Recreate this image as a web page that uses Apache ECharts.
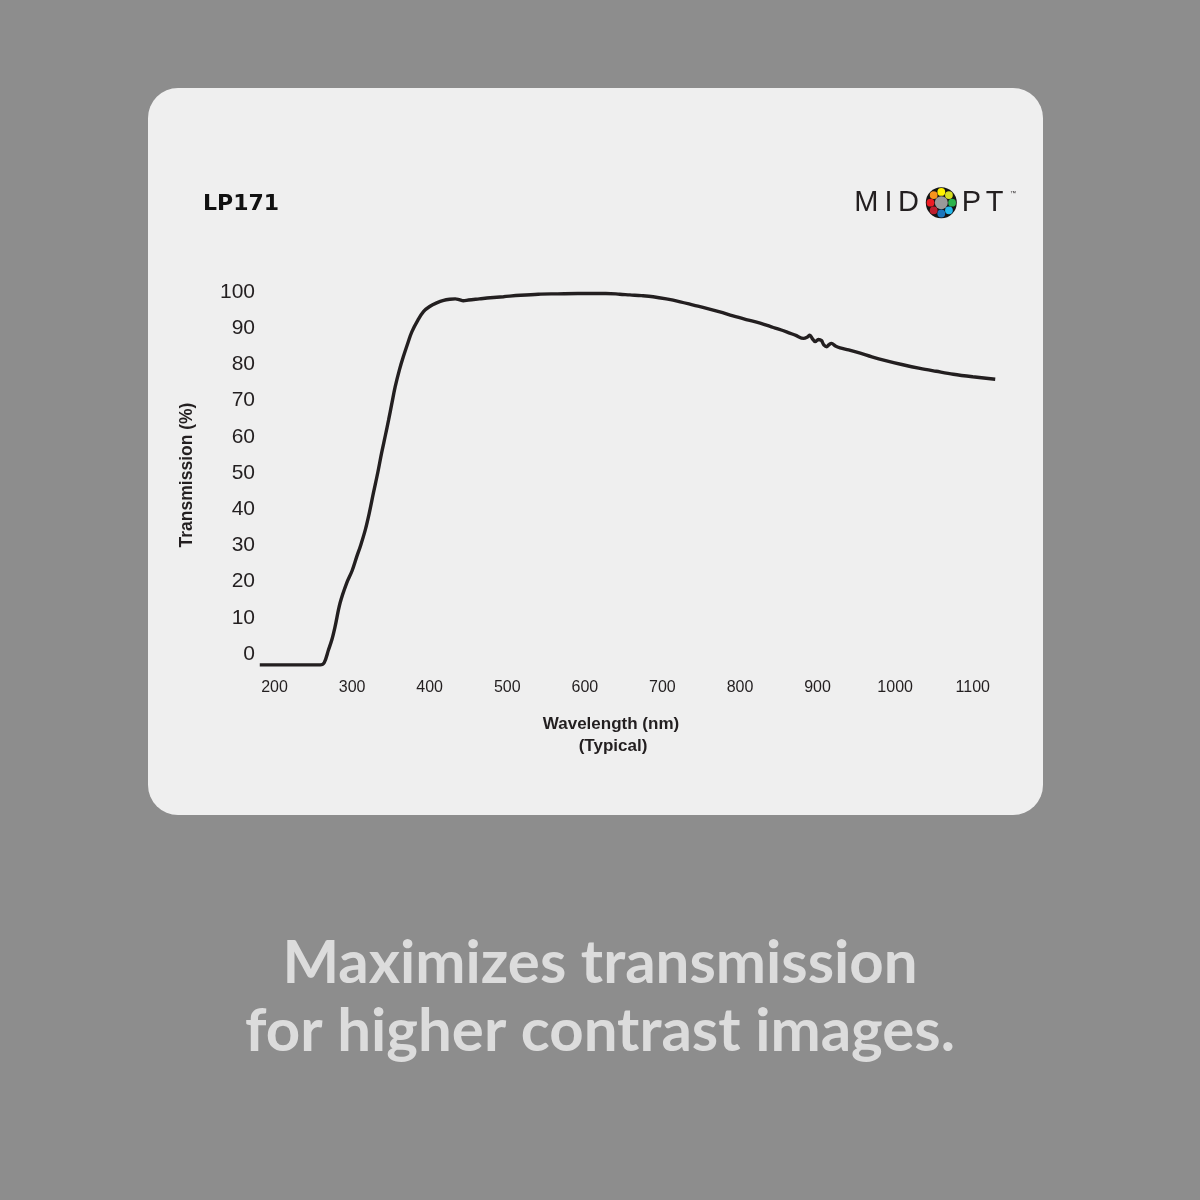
<!DOCTYPE html>
<html>
<head>
<meta charset="utf-8">
<script src="https://cdn.jsdelivr.net/npm/echarts@6/dist/echarts.min.js"></script>
<style>
html,body{margin:0;padding:0;background:#8d8d8d;}
#chart{width:1200px;height:1200px;}
</style>
</head>
<body>
<div id="chart"></div>
<script>
const wavelength = [181, 259, 264, 269.5, 274, 278, 284.5, 293, 300, 306, 311, 317, 322, 327.5, 333, 338, 343, 347, 351.5, 355.5, 361, 366, 372, 377, 385, 392, 400, 409, 418, 426, 433, 438, 443.5, 450, 464, 478, 495, 517, 540, 565, 591, 610, 627, 645, 658, 673, 688, 705, 723, 740, 757, 774, 791, 808, 826, 843, 860, 872, 882, 887, 890, 893, 897, 901, 905, 908, 912, 915, 918, 923, 929, 940, 955, 970, 989, 1010, 1032, 1053, 1075, 1100, 1129];
const transmission = [-3.0, -3.0, -2.4, 1.1, 4.0, 7.5, 14.1, 19.6, 23.0, 26.9, 30.0, 34.3, 38.8, 44.5, 50.0, 55.5, 60.5, 64.6, 69.5, 73.8, 78.5, 82.1, 86.0, 89.0, 92.3, 94.6, 96.0, 97.0, 97.7, 98.0, 98.1, 97.9, 97.6, 97.8, 98.1, 98.4, 98.7, 99.1, 99.4, 99.5, 99.6, 99.6, 99.6, 99.4, 99.2, 99.0, 98.7, 98.1, 97.3, 96.4, 95.5, 94.5, 93.4, 92.4, 91.4, 90.2, 89.0, 88.0, 87.2, 87.6, 88.1, 87.2, 86.3, 86.9, 86.6, 85.4, 84.9, 85.5, 85.8, 85.1, 84.6, 84.0, 83.1, 82.1, 81.0, 79.9, 78.9, 78.1, 77.3, 76.6, 75.9];
const xTickLabels = [200, 300, 400, 500, 600, 700, 800, 900, 1000, 1100];
const yTickLabels = [0, 10, 20, 30, 40, 50, 60, 70, 80, 90, 100];
const title = 'LP171';
const xName = ['Wavelength (nm)', '(Typical)'];
const yName = 'Transmission (%)';
const tagline = ['Maximizes transmission', 'for higher contrast images.'];

const chart = echarts.init(document.getElementById('chart'), null, {renderer: 'canvas'});

const dotColors = ['#f7941d', '#fff200', '#d7df23', '#2bb34b', '#27b8eb', '#1c75bc', '#be1e2d', '#ed1c24'];
const dotAngles = [-135, -90, -45, 0, 45, 90, 135, 180];
const cx = 941.3, cy = 202.7;
const logo = [
  {type: 'circle', shape: {cx: cx, cy: cy, r: 15.5}, style: {fill: '#141414'}, z: 10},
  {type: 'circle', shape: {cx: cx, cy: cy, r: 6.5}, style: {fill: '#9a9a9a'}, z: 11}
];
dotAngles.forEach((a, i) => {
  const rad = a * Math.PI / 180;
  logo.push({type: 'circle', shape: {cx: cx + 10.8 * Math.cos(rad), cy: cy + 10.8 * Math.sin(rad), r: 3.9}, style: {fill: dotColors[i]}, z: 11});
});
const letters = [['M', 866.3], ['I', 888.5], ['D', 908.5], ['P', 971.5], ['T', 994.5]];
letters.forEach(l => {
  logo.push({type: 'text', x: l[1], y: 203, z: 10, style: {text: l[0], fill: '#231f20', font: 'normal 29px "Liberation Sans", Arial, sans-serif', align: 'center', verticalAlign: 'middle'}});
});
logo.push({type: 'text', x: 1010, y: 193, z: 10, style: {text: '™', fill: '#231f20', font: 'normal 6px "Liberation Sans", sans-serif', align: 'left', verticalAlign: 'middle'}});

const option = {
  backgroundColor: '#8d8d8d',
  animation: false,
  grid: {left: 259, width: 737, top: 288.4, height: 380.1, containLabel: false},
  xAxis: {
    type: 'value', min: 180, max: 1130,
    axisLine: {show: false}, axisTick: {show: false}, splitLine: {show: false},
    axisLabel: {
      customValues: xTickLabels, margin: 11,
      formatter: v => String(v),
      fontFamily: '"Liberation Sans Narrow", "Arial Narrow", "Liberation Sans", sans-serif',
      fontSize: 16, color: '#231f20'
    }
  },
  yAxis: {
    type: 'value', min: -4, max: 101,
    axisLine: {show: false}, axisTick: {show: false}, splitLine: {show: false},
    axisLabel: {
      customValues: yTickLabels, margin: 4,
      formatter: v => String(v),
      fontFamily: '"Liberation Sans", Arial, sans-serif', fontSize: 21, color: '#231f20'
    }
  },
  series: [{
    type: 'line',
    data: wavelength.map((w, i) => [w, transmission[i]]),
    showSymbol: false, smooth: 0.35, clip: false,
    lineStyle: {color: '#231f20', width: 3.4}
  }],
  graphic: [
    {type: 'rect', shape: {x: 148, y: 88, width: 895, height: 727, r: 30}, style: {fill: '#efefef'}, z: -10},
    {type: 'text', x: 203, y: 204, style: {text: title, fill: '#111111', font: 'bold 22px "DejaVu Sans", sans-serif', align: 'left', verticalAlign: 'middle'}},
    {type: 'text', x: 611, y: 724, style: {text: xName[0], fill: '#231f20', font: 'bold 17px "Liberation Sans Narrow", "Arial Narrow", "Liberation Sans", sans-serif', align: 'center', verticalAlign: 'middle'}},
    {type: 'text', x: 613, y: 746, style: {text: xName[1], fill: '#231f20', font: 'bold 17px "Liberation Sans Narrow", "Arial Narrow", "Liberation Sans", sans-serif', align: 'center', verticalAlign: 'middle'}},
    {type: 'text', x: 187, y: 475, rotation: Math.PI / 2, style: {text: yName, fill: '#231f20', font: 'bold 17.5px "Liberation Sans", Arial, sans-serif', align: 'center', verticalAlign: 'middle'}},
    {type: 'text', x: 600, y: 964, style: {text: tagline[0], fill: '#dcdcdc', font: 'bold 60px Lato, sans-serif', align: 'center', verticalAlign: 'middle'}},
    {type: 'text', x: 600, y: 1032, style: {text: tagline[1], fill: '#dcdcdc', font: 'bold 60px Lato, sans-serif', align: 'center', verticalAlign: 'middle'}}
  ].concat(logo)
};
chart.setOption(option);
</script>
</body>
</html>
